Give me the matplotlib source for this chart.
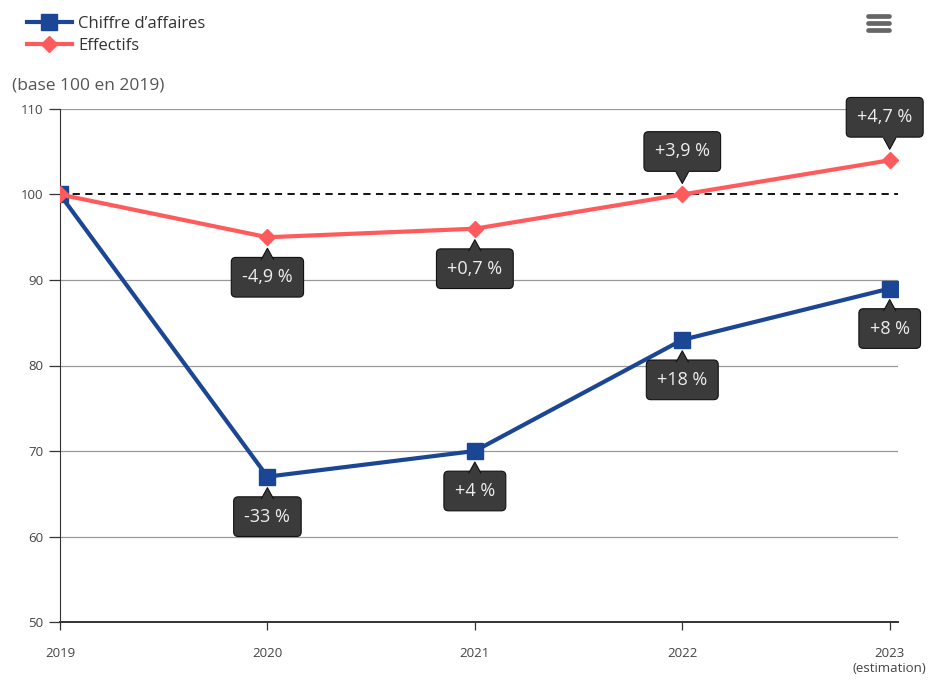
import matplotlib
matplotlib.use('Agg')
from matplotlib import pyplot as plt
from matplotlib.patches import Polygon
from matplotlib.lines import Line2D
from matplotlib.transforms import ScaledTranslation

plt.rcParams['font.family'] = ['Open Sans', 'DejaVu Sans']

# data
years = ['2019', '2020', '2021', '2022', '2023\n(estimation)']
chiffre = [100, 67, 70, 83, 89]
effectifs = [100, 95, 96, 100, 104]
chiffre_lbl = ['', '-33 %', '+4 %', '+18 %', '+8 %']
effectifs_lbl = ['', '-4,9 %', '+0,7 %', '+3,9 %', '+4,7 %']
effectifs_up = [False, False, False, True, True]

BLUE = '#1b4595'
RED = '#ff5a5c'
BOX = '#3b3b3b'

fig = plt.figure(figsize=(9.3, 6.8), dpi=100)
ax = fig.add_axes([60/930, 1-622/680, 838/930, 513/680])
x = list(range(len(years)))

ax.set_xlim(0, 4.04)
ax.set_ylim(50, 110)
for v in [60, 70, 80, 90, 110]:
    ax.axhline(v, color='#999999', lw=0.9, zorder=1)
ax.axhline(100, color='black', lw=1.3, ls=(0, (4, 3)), zorder=2)

ax.plot(x, chiffre, color=BLUE, lw=3, marker='s', ms=11, zorder=4)
ax.plot(x, effectifs, color=RED, lw=3, marker='D', ms=8, zorder=4)

for s in ['top', 'right']:
    ax.spines[s].set_visible(False)
ax.spines['left'].set_color('#333333')
ax.spines['bottom'].set_color('#333333')
ax.spines['bottom'].set_linewidth(1.4)
ax.set_yticks([50, 60, 70, 80, 90, 100, 110])
ax.set_xticks(x)
ax.set_xticklabels(years)
ax.tick_params(axis='y', labelsize=9.5, colors='#333333', length=8, width=0.9, pad=4)
ax.tick_params(axis='x', labelsize=9.5, colors='#333333', length=6, width=0.9, pad=12)
for t in ax.get_yticklabels() + ax.get_xticklabels():
    t.set_color('#444444')


def tooltip(xi, yi, text, up, dx=0):
    off = 43 if up else -40
    ax.annotate(text, xy=(xi, yi), xytext=(dx, off), textcoords='offset pixels',
                ha='center', va='center', color='#eeeeee', fontsize=13, zorder=6,
                bbox=dict(boxstyle='round,pad=0.6,rounding_size=0.25',
                          fc=BOX, ec='#111111', lw=0.8))
    tr = fig.dpi_scale_trans + ScaledTranslation(xi, yi, ax.transData)
    sgn = 1 if up else -1
    tip = [(-0.06, sgn*0.22), (0.0, sgn*0.11), (0.06, sgn*0.22)]
    ax.add_patch(Polygon(tip + [(0.06, sgn*0.26), (-0.06, sgn*0.26)], closed=True,
                         transform=tr, fc=BOX, ec='none', zorder=7))
    ax.add_line(Line2D([p[0] for p in tip], [p[1] for p in tip], transform=tr,
                       color='#111111', lw=0.8, zorder=7))


for i in range(1, 5):
    tooltip(x[i], chiffre[i], chiffre_lbl[i], False)
    tooltip(x[i], effectifs[i], effectifs_lbl[i], effectifs_up[i], dx=-5 if i == 4 else 0)

fig.text(12/930, 1-85/680, '(base 100 en 2019)', fontsize=12.5, color='#555555',
         va='center', ha='left')

handles = [Line2D([], [], color=BLUE, lw=3, marker='s', ms=11),
           Line2D([], [], color=RED, lw=3, marker='D', ms=8)]
fig.legend(handles, ["Chiffre d\u2019affaires", 'Effectifs'], loc='upper left',
           bbox_to_anchor=(20/930, 1-9/680), frameon=False, fontsize=12,
           handlelength=2.7, handletextpad=0.4, labelspacing=0.35,
           labelcolor='#333333', borderaxespad=0)

# menu icon
for yy in [16, 23, 30]:
    fig.add_artist(Line2D([868/930, 889/930], [1-yy/680, 1-yy/680], color='#666666',
                          lw=3.4, solid_capstyle='round'))

fig.savefig('out.png', dpi=100)
